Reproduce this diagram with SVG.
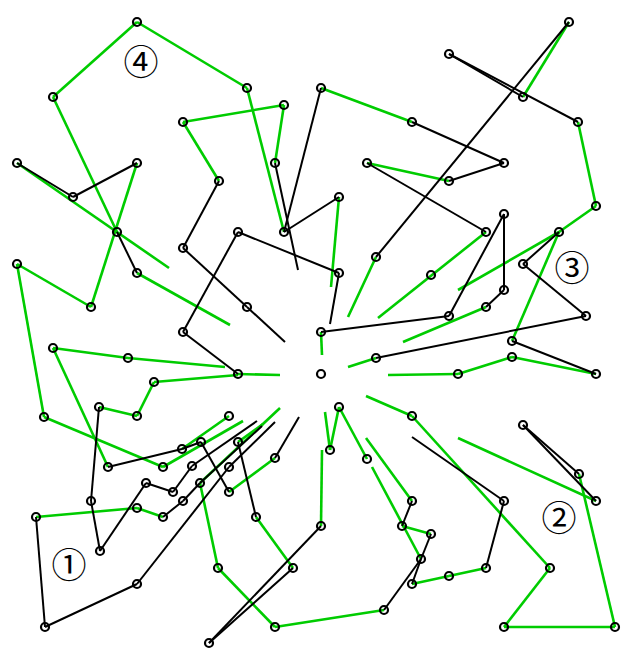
<svg xmlns="http://www.w3.org/2000/svg" width="633" height="670" viewBox="0 0 633 670">
<style>
.g{stroke:#00cc00;stroke-width:2.6;stroke-linecap:butt}
.k{stroke:#000;stroke-width:2}
.n circle{fill:none;stroke:#000;stroke-width:2.2}
.lbl{font-family:"Noto Sans CJK JP","DejaVu Sans",sans-serif;font-size:35px;text-anchor:middle;fill:#000}
</style>
<rect width="633" height="670" fill="#fff"/>
<g id="connectors">
<g id="green">
<line class="g" x1="137" y1="22" x2="53" y2="97"/>
<line class="g" x1="137" y1="22" x2="247" y2="88"/>
<line class="g" x1="247" y1="88" x2="284" y2="232"/>
<line class="g" x1="183" y1="122" x2="284" y2="105"/>
<line class="g" x1="284" y1="105" x2="275" y2="163"/>
<line class="g" x1="183" y1="122" x2="219" y2="181"/>
<line class="g" x1="53" y1="97" x2="117" y2="232"/>
<line class="g" x1="17" y1="163" x2="169" y2="268"/>
<line class="g" x1="137" y1="163" x2="91" y2="307"/>
<line class="g" x1="91" y1="307" x2="17" y2="264"/>
<line class="g" x1="17" y1="264" x2="44" y2="417"/>
<line class="g" x1="137" y1="273" x2="230" y2="325"/>
<line class="g" x1="321" y1="88" x2="412" y2="122"/>
<line class="g" x1="339" y1="197" x2="331" y2="287"/>
<line class="g" x1="569" y1="22" x2="523" y2="97"/>
<line class="g" x1="578" y1="122" x2="596" y2="206"/>
<line class="g" x1="596" y1="206" x2="559" y2="232"/>
<line class="g" x1="559" y1="232" x2="458" y2="290"/>
<line class="g" x1="559" y1="232" x2="512" y2="341"/>
<line class="g" x1="458" y1="374" x2="512" y2="357"/>
<line class="g" x1="512" y1="357" x2="596" y2="374"/>
<line class="g" x1="458" y1="374" x2="388" y2="375"/>
<line class="g" x1="376" y1="358" x2="348" y2="367"/>
<line class="g" x1="486" y1="307" x2="403" y2="342"/>
<line class="g" x1="321" y1="332" x2="322" y2="355"/>
<line class="g" x1="486" y1="232" x2="378" y2="318"/>
<line class="g" x1="367" y1="163" x2="449" y2="181"/>
<line class="g" x1="376" y1="257" x2="348" y2="317"/>
<line class="g" x1="53" y1="348" x2="128" y2="358"/>
<line class="g" x1="128" y1="358" x2="225" y2="367"/>
<line class="g" x1="154" y1="382" x2="238" y2="375"/>
<line class="g" x1="238" y1="374" x2="280" y2="375"/>
<line class="g" x1="154" y1="382" x2="137" y2="416"/>
<line class="g" x1="137" y1="416" x2="99" y2="407"/>
<line class="g" x1="53" y1="348" x2="108" y2="467"/>
<line class="g" x1="44" y1="417" x2="163" y2="467"/>
<line class="g" x1="182" y1="449" x2="229" y2="416"/>
<line class="g" x1="163" y1="467" x2="243" y2="421"/>
<line class="g" x1="36" y1="517" x2="137" y2="508"/>
<line class="g" x1="137" y1="508" x2="163" y2="517"/>
<line class="g" x1="200" y1="483" x2="280" y2="408"/>
<line class="g" x1="200" y1="483" x2="218" y2="568"/>
<line class="g" x1="218" y1="568" x2="275" y2="627"/>
<line class="g" x1="275" y1="627" x2="384" y2="610"/>
<line class="g" x1="238" y1="442" x2="263" y2="424"/>
<line class="g" x1="229" y1="492" x2="275" y2="458"/>
<line class="g" x1="256" y1="517" x2="293" y2="568"/>
<line class="g" x1="321" y1="526" x2="322" y2="450"/>
<line class="g" x1="339" y1="407" x2="330" y2="450"/>
<line class="g" x1="330" y1="450" x2="325" y2="412"/>
<line class="g" x1="339" y1="407" x2="367" y2="459"/>
<line class="g" x1="412" y1="416" x2="550" y2="568"/>
<line class="g" x1="412" y1="416" x2="366" y2="396"/>
<line class="g" x1="412" y1="501" x2="366" y2="438"/>
<line class="g" x1="421" y1="559" x2="372" y2="467"/>
<line class="g" x1="402" y1="526" x2="431" y2="534"/>
<line class="g" x1="412" y1="584" x2="449" y2="576"/>
<line class="g" x1="449" y1="576" x2="486" y2="568"/>
<line class="g" x1="579" y1="474" x2="615" y2="627"/>
<line class="g" x1="615" y1="627" x2="504" y2="627"/>
<line class="g" x1="504" y1="627" x2="550" y2="568"/>
<line class="g" x1="596" y1="501" x2="458" y2="438"/>
</g>
<g id="black">
<line class="k" x1="17" y1="163" x2="73" y2="197"/>
<line class="k" x1="73" y1="197" x2="137" y2="163"/>
<line class="k" x1="117" y1="232" x2="137" y2="273"/>
<line class="k" x1="219" y1="181" x2="183" y2="248"/>
<line class="k" x1="183" y1="248" x2="247" y2="307"/>
<line class="k" x1="247" y1="307" x2="285" y2="342"/>
<line class="k" x1="238" y1="232" x2="183" y2="332"/>
<line class="k" x1="183" y1="332" x2="238" y2="374"/>
<line class="k" x1="238" y1="232" x2="339" y2="273"/>
<line class="k" x1="339" y1="273" x2="330" y2="324"/>
<line class="k" x1="275" y1="163" x2="298" y2="270"/>
<line class="k" x1="321" y1="88" x2="284" y2="232"/>
<line class="k" x1="339" y1="197" x2="284" y2="232"/>
<line class="k" x1="412" y1="122" x2="504" y2="163"/>
<line class="k" x1="449" y1="54" x2="523" y2="97"/>
<line class="k" x1="449" y1="54" x2="578" y2="122"/>
<line class="k" x1="569" y1="22" x2="376" y2="257"/>
<line class="k" x1="559" y1="232" x2="523" y2="264"/>
<line class="k" x1="523" y1="264" x2="586" y2="316"/>
<line class="k" x1="586" y1="316" x2="376" y2="358"/>
<line class="k" x1="512" y1="341" x2="596" y2="374"/>
<line class="k" x1="504" y1="214" x2="504" y2="290"/>
<line class="k" x1="504" y1="214" x2="449" y2="316"/>
<line class="k" x1="504" y1="290" x2="486" y2="307"/>
<line class="k" x1="449" y1="316" x2="321" y2="332"/>
<line class="k" x1="367" y1="163" x2="486" y2="232"/>
<line class="k" x1="449" y1="181" x2="504" y2="163"/>
<line class="k" x1="99" y1="407" x2="91" y2="501"/>
<line class="k" x1="108" y1="467" x2="182" y2="449"/>
<line class="k" x1="182" y1="449" x2="201" y2="442"/>
<line class="k" x1="91" y1="501" x2="100" y2="551"/>
<line class="k" x1="100" y1="551" x2="146" y2="483"/>
<line class="k" x1="146" y1="483" x2="173" y2="492"/>
<line class="k" x1="173" y1="492" x2="192" y2="466"/>
<line class="k" x1="192" y1="466" x2="257" y2="421"/>
<line class="k" x1="163" y1="517" x2="183" y2="501"/>
<line class="k" x1="183" y1="501" x2="200" y2="483"/>
<line class="k" x1="200" y1="483" x2="262" y2="426"/>
<line class="k" x1="36" y1="517" x2="45" y2="627"/>
<line class="k" x1="45" y1="627" x2="137" y2="584"/>
<line class="k" x1="137" y1="584" x2="229" y2="467"/>
<line class="k" x1="229" y1="467" x2="275" y2="422"/>
<line class="k" x1="238" y1="442" x2="256" y2="517"/>
<line class="k" x1="275" y1="458" x2="299" y2="417"/>
<line class="k" x1="201" y1="442" x2="229" y2="492"/>
<line class="k" x1="209" y1="643" x2="321" y2="526"/>
<line class="k" x1="209" y1="643" x2="293" y2="568"/>
<line class="k" x1="384" y1="610" x2="421" y2="559"/>
<line class="k" x1="412" y1="501" x2="402" y2="526"/>
<line class="k" x1="431" y1="534" x2="421" y2="559"/>
<line class="k" x1="421" y1="559" x2="412" y2="584"/>
<line class="k" x1="486" y1="568" x2="504" y2="501"/>
<line class="k" x1="504" y1="501" x2="412" y2="437"/>
<line class="k" x1="523" y1="425" x2="579" y2="474"/>
<line class="k" x1="523" y1="425" x2="596" y2="501"/>
</g>
</g>
<g id="nodes" class="n">
<g id="n1"><circle cx="137" cy="22" r="4"/></g>
<g id="n2"><circle cx="53" cy="97" r="4"/></g>
<g id="n3"><circle cx="247" cy="88" r="4"/></g>
<g id="n4"><circle cx="284" cy="105" r="4"/></g>
<g id="n5"><circle cx="183" cy="122" r="4"/></g>
<g id="n6"><circle cx="321" cy="88" r="4"/></g>
<g id="n7"><circle cx="412" cy="122" r="4"/></g>
<g id="n8"><circle cx="449" cy="54" r="4"/></g>
<g id="n9"><circle cx="569" cy="22" r="4"/></g>
<g id="n10"><circle cx="523" cy="97" r="4"/></g>
<g id="n11"><circle cx="578" cy="122" r="4"/></g>
<g id="n12"><circle cx="17" cy="163" r="4"/></g>
<g id="n13"><circle cx="73" cy="197" r="4"/></g>
<g id="n14"><circle cx="137" cy="163" r="4"/></g>
<g id="n15"><circle cx="219" cy="181" r="4"/></g>
<g id="n16"><circle cx="275" cy="163" r="4"/></g>
<g id="n17"><circle cx="367" cy="163" r="4"/></g>
<g id="n18"><circle cx="449" cy="181" r="4"/></g>
<g id="n19"><circle cx="504" cy="163" r="4"/></g>
<g id="n20"><circle cx="339" cy="197" r="4"/></g>
<g id="n21"><circle cx="596" cy="206" r="4"/></g>
<g id="n22"><circle cx="117" cy="232" r="4"/></g>
<g id="n23"><circle cx="183" cy="248" r="4"/></g>
<g id="n24"><circle cx="238" cy="232" r="4"/></g>
<g id="n25"><circle cx="284" cy="232" r="4"/></g>
<g id="n26"><circle cx="486" cy="232" r="4"/></g>
<g id="n27"><circle cx="559" cy="232" r="4"/></g>
<g id="n28"><circle cx="504" cy="214" r="4"/></g>
<g id="n29"><circle cx="376" cy="257" r="4"/></g>
<g id="n30"><circle cx="339" cy="273" r="4"/></g>
<g id="n31"><circle cx="431" cy="275" r="4"/></g>
<g id="n32"><circle cx="523" cy="264" r="4"/></g>
<g id="n33"><circle cx="17" cy="264" r="4"/></g>
<g id="n34"><circle cx="137" cy="273" r="4"/></g>
<g id="n35"><circle cx="91" cy="307" r="4"/></g>
<g id="n36"><circle cx="247" cy="307" r="4"/></g>
<g id="n37"><circle cx="183" cy="332" r="4"/></g>
<g id="n38"><circle cx="321" cy="332" r="4"/></g>
<g id="n39"><circle cx="504" cy="290" r="4"/></g>
<g id="n40"><circle cx="486" cy="307" r="4"/></g>
<g id="n41"><circle cx="449" cy="316" r="4"/></g>
<g id="n42"><circle cx="586" cy="316" r="4"/></g>
<g id="n43"><circle cx="512" cy="341" r="4"/></g>
<g id="n44"><circle cx="53" cy="348" r="4"/></g>
<g id="n45"><circle cx="128" cy="358" r="4"/></g>
<g id="n46"><circle cx="376" cy="358" r="4"/></g>
<g id="n47"><circle cx="512" cy="357" r="4"/></g>
<g id="n48"><circle cx="238" cy="374" r="4"/></g>
<g id="n49"><circle cx="321" cy="374" r="4"/></g>
<g id="n50"><circle cx="458" cy="374" r="4"/></g>
<g id="n51"><circle cx="596" cy="374" r="4"/></g>
<g id="n52"><circle cx="154" cy="382" r="4"/></g>
<g id="n53"><circle cx="99" cy="407" r="4"/></g>
<g id="n54"><circle cx="137" cy="416" r="4"/></g>
<g id="n55"><circle cx="44" cy="417" r="4"/></g>
<g id="n56"><circle cx="339" cy="407" r="4"/></g>
<g id="n57"><circle cx="412" cy="416" r="4"/></g>
<g id="n58"><circle cx="229" cy="416" r="4"/></g>
<g id="n59"><circle cx="523" cy="425" r="4"/></g>
<g id="n60"><circle cx="182" cy="449" r="4"/></g>
<g id="n61"><circle cx="201" cy="442" r="4"/></g>
<g id="n62"><circle cx="238" cy="442" r="4"/></g>
<g id="n63"><circle cx="108" cy="467" r="4"/></g>
<g id="n64"><circle cx="163" cy="467" r="4"/></g>
<g id="n65"><circle cx="192" cy="466" r="4"/></g>
<g id="n66"><circle cx="229" cy="467" r="4"/></g>
<g id="n67"><circle cx="275" cy="458" r="4"/></g>
<g id="n68"><circle cx="146" cy="483" r="4"/></g>
<g id="n69"><circle cx="173" cy="492" r="4"/></g>
<g id="n70"><circle cx="200" cy="483" r="4"/></g>
<g id="n71"><circle cx="229" cy="492" r="4"/></g>
<g id="n72"><circle cx="183" cy="501" r="4"/></g>
<g id="n73"><circle cx="163" cy="517" r="4"/></g>
<g id="n74"><circle cx="137" cy="508" r="4"/></g>
<g id="n75"><circle cx="36" cy="517" r="4"/></g>
<g id="n76"><circle cx="256" cy="517" r="4"/></g>
<g id="n77"><circle cx="91" cy="501" r="4"/></g>
<g id="n78"><circle cx="100" cy="551" r="4"/></g>
<g id="n79"><circle cx="137" cy="584" r="4"/></g>
<g id="n80"><circle cx="45" cy="627" r="4"/></g>
<g id="n81"><circle cx="218" cy="568" r="4"/></g>
<g id="n82"><circle cx="209" cy="643" r="4"/></g>
<g id="n83"><circle cx="275" cy="627" r="4"/></g>
<g id="n84"><circle cx="293" cy="568" r="4"/></g>
<g id="n85"><circle cx="321" cy="526" r="4"/></g>
<g id="n86"><circle cx="330" cy="450" r="4"/></g>
<g id="n87"><circle cx="367" cy="459" r="4"/></g>
<g id="n88"><circle cx="412" cy="501" r="4"/></g>
<g id="n89"><circle cx="402" cy="526" r="4"/></g>
<g id="n90"><circle cx="431" cy="534" r="4"/></g>
<g id="n91"><circle cx="421" cy="559" r="4"/></g>
<g id="n92"><circle cx="412" cy="584" r="4"/></g>
<g id="n93"><circle cx="449" cy="576" r="4"/></g>
<g id="n94"><circle cx="486" cy="568" r="4"/></g>
<g id="n95"><circle cx="504" cy="501" r="4"/></g>
<g id="n96"><circle cx="579" cy="474" r="4"/></g>
<g id="n97"><circle cx="596" cy="501" r="4"/></g>
<g id="n98"><circle cx="550" cy="568" r="4"/></g>
<g id="n99"><circle cx="504" cy="627" r="4"/></g>
<g id="n100"><circle cx="615" cy="627" r="4"/></g>
<g id="n101"><circle cx="384" cy="610" r="4"/></g>
</g>
<g id="labels">
<text class="lbl" x="69" y="578">①</text>
<text class="lbl" x="559" y="531">②</text>
<text class="lbl" x="572" y="281">③</text>
<text class="lbl" x="141" y="75">④</text>
</g>
</svg>
